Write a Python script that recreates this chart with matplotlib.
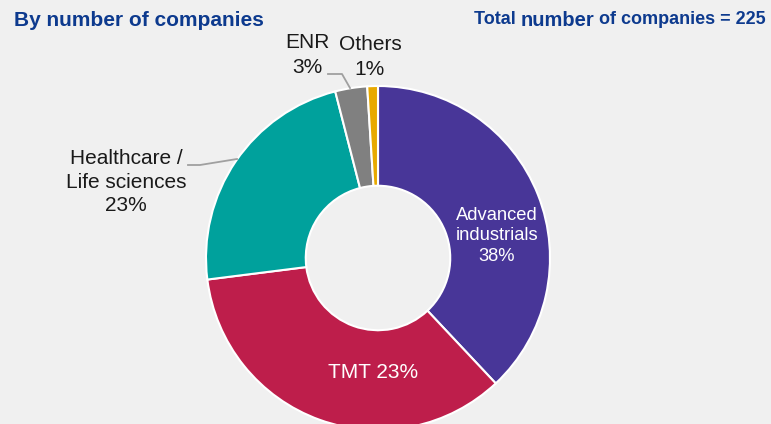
import matplotlib.pyplot as plt
from matplotlib.transforms import offset_copy

# sector shares (share of 225 companies, slice sizes as drawn)
sectors = ["Advanced industrials", "TMT", "Healthcare / Life sciences", "ENR", "Others"]
shares = [38, 35, 23, 3, 1]
labels = ["Advanced\nindustrials\n38%", "TMT 23%", "Healthcare /\nLife sciences\n23%", "ENR\n3%", "Others\n1%"]
colors = ["#483698", "#be1e4b", "#00a19c", "#808080", "#e8a900"]

bg = "#f0f0f0"
navy = "#0d3a8e"
plt.rcParams['font.family'] = ['Liberation Sans', 'DejaVu Sans']

fig = plt.figure(figsize=(7.71, 4.24), dpi=100, facecolor=bg)
W, H = 771, 424
cx, cy, r = 378, 258, 172
ax = fig.add_axes([(cx - r) / W, (H - cy - r) / H, 2 * r / W, 2 * r / H])
ax.set_facecolor(bg)
ax.axis('off')

wedges, _ = ax.pie(shares, colors=colors, startangle=90, counterclock=False,
                   radius=1, wedgeprops=dict(width=0.58, edgecolor='white', linewidth=1.5))
for w in wedges:
    w.set_clip_on(False)
ax.set_xlim(-1, 1)
ax.set_ylim(-1, 1)

def px(x, y):
    return (x - cx) / r, (cy - y) / r

ax.text(*px(497, 236), labels[0], color='white', fontsize=13.2, ha='center', va='center', linespacing=1.3)
ax.text(*px(373, 372), labels[1], color='white', fontsize=15, ha='center', va='center')
ax.text(*px(126, 182), labels[2], color='#1a1a1a', fontsize=15, ha='center', va='center', linespacing=1.3)
ax.text(*px(307, 55), labels[3], color='#1a1a1a', fontsize=15, ha='center', va='center', linespacing=1.4)
ax.text(*px(370, 57), labels[4], color='#1a1a1a', fontsize=15, ha='center', va='center', linespacing=1.4)

# leader lines
for pts in [[(188, 165), (200, 165), (237, 159)], [(328, 74), (342, 74), (350, 88)]]:
    xs, ys = zip(*[px(*p) for p in pts])
    ax.plot(xs, ys, color='#a0a0a0', lw=1.3, clip_on=False)

fig.text(14 / W, 1 - 20 / H, "By number of companies", color=navy, fontsize=15,
         fontweight='bold', ha='left', va='center')

# right title with a larger "number"
fig.canvas.draw()
rend = fig.canvas.get_renderer()
x = 766 / W
parts = [(" of companies = 225", 13), ("number", 14.5), ("Total ", 13)]
offset = 0
for txt, size in parts:
    t = fig.text(x, 1 - 20 / H, txt, color=navy, fontsize=size, fontweight='bold',
                 ha='right', va='center',
                 transform=offset_copy(fig.transFigure, fig=fig, x=-offset, y=0, units='dots'))
    offset += t.get_window_extent(rend).width

fig.savefig("out.png", dpi=100, facecolor=bg)
